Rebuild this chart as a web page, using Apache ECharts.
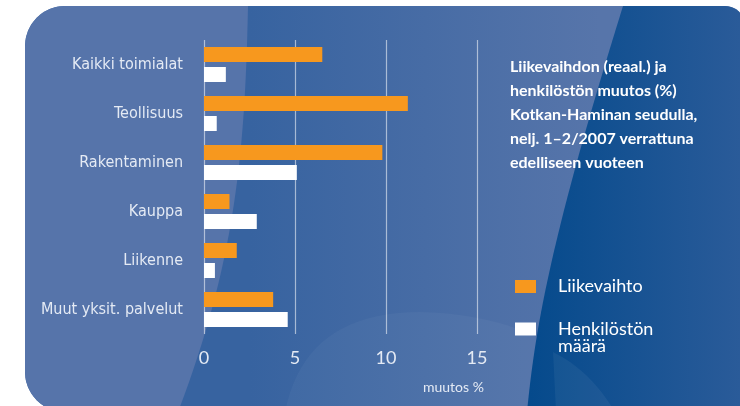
<!DOCTYPE html>
<html>
<head>
<meta charset="utf-8">
<script src="https://cdn.jsdelivr.net/npm/echarts@6/dist/echarts.min.js"></script>
<style>
  html, body { margin: 0; padding: 0; background: #fff; }
  #chart { width: 740px; height: 406px; }
</style>
</head>
<body>
<div id="chart"></div>
<script>
// toimialat ylhäältä alas
const categories = [
  "Kaikki toimialat",
  "Teollisuus",
  "Rakentaminen",
  "Kauppa",
  "Liikenne",
  "Muut yksit. palvelut",
];
const liikevaihto = [6.5, 11.2, 9.8, 1.4, 1.8, 3.8];
const henkilosto = [1.2, 0.7, 5.1, 2.9, 0.6, 4.6];
const xTicks = [0, 5, 10, 15];

const chart = echarts.init(document.getElementById("chart"));

const narrow = "'Liberation Sans Narrow', 'DejaVu Sans Condensed', sans-serif";
const textColor = "#e4eaf4";

// apufunktiot taustan kaarille (polygon-pisteiksi)
function bez(p0, p1, p2, p3, n) {
  const pts = [];
  for (let i = 0; i <= n; i++) {
    const t = i / n, u = 1 - t;
    pts.push([
      u * u * u * p0[0] + 3 * u * u * t * p1[0] + 3 * u * t * t * p2[0] + t * t * t * p3[0],
      u * u * u * p0[1] + 3 * u * u * t * p1[1] + 3 * u * t * t * p2[1] + t * t * t * p3[1],
    ]);
  }
  return pts;
}
function quad(p0, p1, p2, n) {
  const pts = [];
  for (let i = 0; i <= n; i++) {
    const t = i / n, u = 1 - t;
    pts.push([
      u * u * p0[0] + 2 * u * t * p1[0] + t * t * p2[0],
      u * u * p0[1] + 2 * u * t * p1[1] + t * t * p2[1],
    ]);
  }
  return pts;
}
function arc(cx, cy, r, a0, a1, n) {
  const pts = [];
  for (let i = 0; i <= n; i++) {
    const a = a0 + ((a1 - a0) * i) / n;
    pts.push([cx + r * Math.cos(a), cy + r * Math.sin(a)]);
  }
  return pts;
}
const PI = Math.PI;

const leftShape = [].concat(
  arc(65, 46, 40, PI, 1.5 * PI, 12),
  bez([248, 6], [245, 150], [236, 260], [178, 412], 30),
  arc(65, 372, 40, 0.5 * PI, PI, 12)
);
const rightShape = [].concat(
  [[623, 6]],
  arc(725, 26, 20, 1.5 * PI, 2 * PI, 10),
  [[745, 412]],
  bez([527, 412], [535, 330], [550, 240], [623, 6], 30)
);
const hill = [].concat(
  quad([285, 412], [305, 312], [420, 312], 20),
  quad([420, 312], [560, 315], [620, 412], 20)
);
const hillDark = quad([553, 352], [590, 370], [615, 412], 12).concat([[556, 412]]);

const legendText = {
  color: "#ffffff",
  fontFamily: "Lato, sans-serif",
  fontSize: 18,
  lineHeight: 17,
  padding: [0, 0, 0, 17],
};

chart.setOption({
  animation: false,
  // taustapaneeli ja koristekuviot
  graphic: [
    {
      type: "rect",
      z: -10,
      shape: { x: 25, y: 6, width: 720, height: 406, r: [40, 20, 0, 40] },
      style: {
        fill: {
          type: "linear", x: 250, y: 0, x2: 600, y2: 0, global: true,
          colorStops: [
            { offset: 0, color: "#3763a0" },
            { offset: 1, color: "#5775aa" },
          ],
        },
      },
    },
    {
      type: "polygon",
      z: -9,
      shape: { points: leftShape },
      style: { fill: "#5674aa" },
    },
    {
      type: "polygon",
      z: -8,
      shape: { points: hill },
      style: { fill: "rgba(255,255,255,0.035)" },
    },
    {
      type: "polygon",
      z: -7,
      shape: { points: rightShape },
      style: {
        fill: {
          type: "linear", x: 530, y: 0, x2: 740, y2: 0, global: true,
          colorStops: [
            { offset: 0, color: "#054a8c" },
            { offset: 1, color: "#2a5b99" },
          ],
        },
      },
    },
    {
      type: "polygon",
      z: -6,
      shape: { points: hillDark },
      style: { fill: "rgba(255,255,255,0.05)" },
    },
    {
      type: "text",
      left: 423,
      top: 380,
      style: {
        text: "muutos %",
        fill: textColor,
        font: "14px Lato, sans-serif",
      },
    },
  ],
  title: {
    text: "Liikevaihdon (reaal.) ja\nhenkilöstön muutos (%)\nKotkan-Haminan seudulla,\nnelj. 1–2/2007 verrattuna\nedelliseen vuoteen",
    left: 505,
    top: 50,
    textStyle: {
      color: "#ffffff",
      fontFamily: "Lato, sans-serif",
      fontWeight: "bold",
      fontSize: 16,
      lineHeight: 24,
    },
  },
  legend: [
    {
      orient: "vertical",
      left: 515,
      top: 277.5,
      padding: 0,
      itemWidth: 21,
      itemHeight: 13,
      icon: "rect",
      data: ["Liikevaihto"],
      textStyle: legendText,
    },
    {
      orient: "vertical",
      left: 515,
      top: 303,
      padding: 0,
      itemWidth: 21,
      itemHeight: 13,
      icon: "rect",
      data: ["Henkilöstön määrä"],
      // tyhjä ensimmäinen rivi: teksti alkaa neliön kohdalta
      formatter: (name) => " \n" + name.replace(" ", "\n"),
      textStyle: legendText,
    },
  ],
  grid: {
    left: 204,
    top: 40,
    width: 273,
    height: 294,
  },
  xAxis: {
    type: "value",
    min: 0,
    max: 15,
    interval: 5,
    axisLine: { show: false },
    axisTick: { show: false },
    splitLine: {
      show: true,
      lineStyle: { color: "rgba(255,255,255,0.55)", width: 1.2 },
    },
    axisLabel: {
      color: textColor,
      fontFamily: "Lato, sans-serif",
      fontSize: 18,
      margin: 15,
      formatter: (v) => (xTicks.includes(v) ? String(v) : ""),
    },
  },
  yAxis: {
    type: "category",
    inverse: true,
    data: categories,
    axisLine: { show: false },
    axisTick: { show: false },
    axisLabel: {
      color: textColor,
      fontFamily: narrow,
      fontSize: 16,
      margin: 21,
    },
  },
  series: [
    {
      name: "Liikevaihto",
      type: "bar",
      barWidth: 15,
      barGap: "33%",
      itemStyle: { color: "#f7981e" },
      data: liikevaihto,
    },
    {
      name: "Henkilöstön määrä",
      type: "bar",
      barWidth: 15,
      barGap: "33%",
      itemStyle: { color: "#ffffff" },
      data: henkilosto,
    },
  ],
});
</script>
</body>
</html>
